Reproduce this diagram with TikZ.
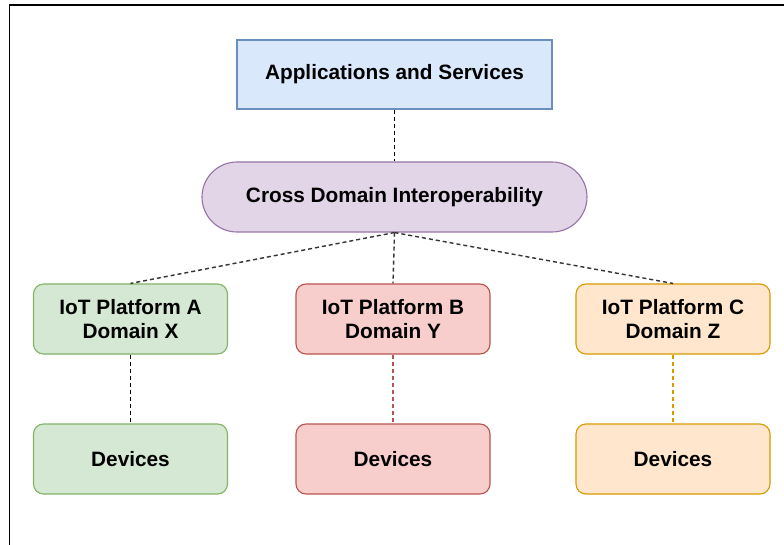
\documentclass[tikz,border=0pt]{standalone}
\usepackage{fontspec}
\setmainfont{Liberation Sans}
\begin{document}
\begin{tikzpicture}[x=1pt,y=-1pt,
  box/.style={draw, line width=1.1pt, minimum width=194pt, minimum height=70pt,
    rounded corners=10pt, align=center, font=\bfseries\fontsize{20.8}{24.5}\selectfont, inner sep=0pt},
  link/.style={line width=1.4pt, dash pattern=on 4pt off 3pt},
]
\definecolor{blueF}{HTML}{DAE8FC}\definecolor{blueD}{HTML}{6C8EBF}
\definecolor{purpF}{HTML}{E1D5E7}\definecolor{purpD}{HTML}{9673A6}
\definecolor{greenF}{HTML}{D5E8D4}\definecolor{greenD}{HTML}{82B366}
\definecolor{redF}{HTML}{F8CECC}\definecolor{redD}{HTML}{B85450}
\definecolor{orF}{HTML}{FFE6CC}\definecolor{orD}{HTML}{D79B00}
\definecolor{lk}{HTML}{333333}

\useasboundingbox (0,0) rectangle (784,545);
\fill[white] (0,0) rectangle (784,545);

% outer frame
\coordinate (fbl) at (9.5,546);
\coordinate (ftr) at (785,5);
\draw[line width=1.8pt] (fbl) |- (ftr);

% top layers
\node[box, rounded corners=0pt, fill=blueF, draw=blueD, minimum width=315pt, minimum height=69pt]
  (app) at (394.5,74.5) {Applications and Services};
\node[box, fill=purpF, draw=purpD, minimum width=385pt, minimum height=70pt, rounded corners=35pt]
  (cdi) at (394.5,197) {Cross Domain Interoperability};

% platforms
\node[box, fill=greenF, draw=greenD] (pa) at (130.5,319) {IoT Platform A\\Domain X};
\node[box, fill=redF, draw=redD] (pb) at (393,319) {IoT Platform B\\Domain Y};
\node[box, fill=orF, draw=orD] (pc) at (673,319) {IoT Platform C\\Domain Z};

% devices
\node[box, fill=greenF, draw=greenD] (da) at (130.5,459) {Devices};
\node[box, fill=redF, draw=redD] (db) at (393,459) {Devices};
\node[box, fill=orF, draw=orD] (dc) at (673,459) {Devices};

% connectors
\draw[link, black] (app.south) -- (cdi.north);
\draw[link, lk] (cdi.south) -- (pa.north);
\draw[link, lk] (cdi.south) -- (pb.north);
\draw[link, lk] (cdi.south) -- (pc.north);
\draw[link, black] (pa.south) -- (da.north);
\draw[link, draw=redD] (pb.south) -- (db.north);
\draw[link, draw=orD] (pc.south) -- (dc.north);
\end{tikzpicture}
\end{document}
